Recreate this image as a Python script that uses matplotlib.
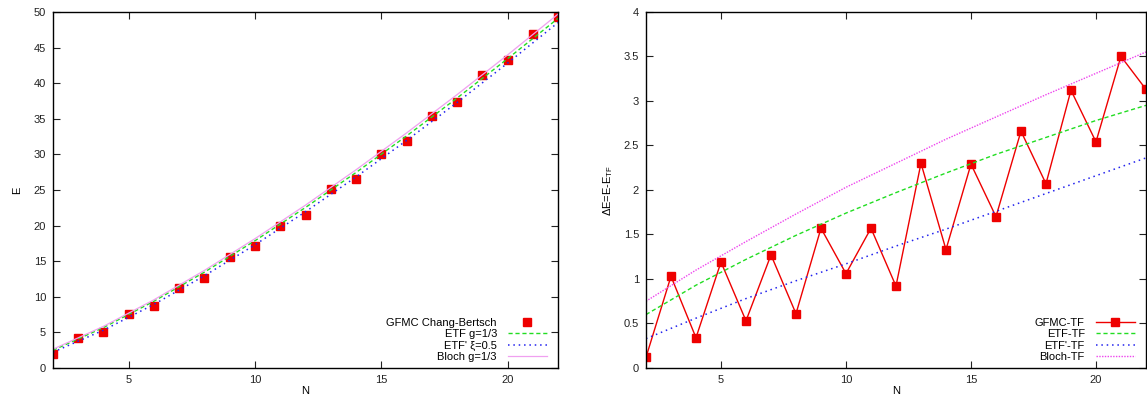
import numpy as np
import matplotlib
matplotlib.use('Agg')
import matplotlib.pyplot as plt
from matplotlib.ticker import FormatStrFormatter

plt.rcParams['font.family'] = ['Liberation Sans', 'DejaVu Sans']
plt.rcParams['font.size'] = 8
plt.rcParams['mathtext.fontset'] = 'custom'
plt.rcParams['mathtext.rm'] = 'Liberation Sans'

# GFMC points
N = np.arange(2, 23)
E_gfmc = [2.0, 4.2, 5.1, 7.6, 8.7, 11.3, 12.6, 15.6, 17.2, 19.9, 21.5,
          25.2, 26.6, 30.0, 31.9, 35.4, 37.4, 41.1, 43.2, 46.9, 49.3]
dE_gfmc = [0.12, 1.03, 0.34, 1.19, 0.53, 1.27, 0.61, 1.57, 1.06, 1.57, 0.92,
           2.30, 1.33, 2.29, 1.70, 2.66, 2.07, 3.12, 2.54, 3.50, 3.13]

# smooth curves, sampled at even N
Nc = [2, 4, 6, 8, 10, 12, 14, 16, 18, 20, 22]
E_etf = [2.49, 5.68, 9.38, 13.47, 17.87, 22.54, 27.45, 32.58, 37.90, 43.42, 49.09]
E_etfp = [2.22, 5.31, 8.94, 12.96, 17.30, 21.94, 26.82, 31.94, 37.27, 42.80, 48.50]
E_bloch = [2.64, 5.85, 9.58, 13.71, 18.16, 22.87, 27.83, 33.00, 38.38, 43.95, 49.69]
dE_etf = [0.60, 0.93, 1.22, 1.49, 1.74, 1.97, 2.19, 2.40, 2.59, 2.78, 2.95]
dE_etfp = [0.33, 0.56, 0.78, 0.98, 1.17, 1.37, 1.56, 1.76, 1.96, 2.16, 2.36]
dE_bloch = [0.75, 1.10, 1.42, 1.73, 2.03, 2.30, 2.57, 2.82, 3.07, 3.31, 3.55]

green = '#22dd22'
blue = '#2222ee'
magenta = '#ee44ee'
red = '#ee0000'

fig = plt.figure(figsize=(11.47, 4.01), dpi=100)
ax1 = fig.add_axes([0.0462, 0.0823, 0.4403, 0.888])
ax2 = fig.add_axes([0.5632, 0.0823, 0.4359, 0.888])

# left panel
ax1.plot(N, E_gfmc, 's', color=red, ms=5.5, label='GFMC Chang-Bertsch')
ax1.plot(Nc, E_etf, '--', color=green, lw=1, dashes=(3, 2), label='ETF g=1/3')
ax1.plot(Nc, E_etfp, ':', color=blue, lw=1.1, dashes=(1, 2.5), label="ETF' \u03be=0.5")
ax1.plot(Nc, E_bloch, '-', color='#f0a0f0', lw=0.9, label='Bloch g=1/3')
ax1.set_xlim(2, 22)
ax1.set_ylim(0, 50)
ax1.set_xticks([5, 10, 15, 20])
ax1.set_yticks(np.arange(0, 51, 5))
ax1.set_xlabel('N')
ax1.set_ylabel('E')

# right panel
ax2.plot(N, dE_gfmc, '-s', color=red, lw=1, ms=5.5, label='GFMC-TF')
ax2.plot(Nc, dE_etf, '--', color=green, lw=1, dashes=(3, 2), label='ETF-TF')
ax2.plot(Nc, dE_etfp, ':', color=blue, lw=1.1, dashes=(1, 2.5), label="ETF'-TF")
ax2.plot(Nc, dE_bloch, ':', color=magenta, lw=1, dashes=(1, 1), label='Bloch-TF')
ax2.set_xlim(2, 22)
ax2.set_ylim(0, 4)
ax2.set_xticks([5, 10, 15, 20])
ax2.set_yticks(np.arange(0, 4.01, 0.5))
ax2.yaxis.set_major_formatter(FormatStrFormatter('%g'))
ax2.set_xlabel('N')
ax2.set_ylabel('\u0394E=E-E$_{\\rm TF}$')

for ax in (ax1, ax2):
    ax.legend(loc='lower right', bbox_to_anchor=(1.0, -0.014), frameon=False,
              markerfirst=False, handlelength=3.5, labelspacing=0.12,
              borderaxespad=0.6, handletextpad=1.0, numpoints=1)
    ax.tick_params(direction='in', top=True, right=True, length=5, width=0.8,
                   labelsize=8, colors='#222222', pad=5)
    for s in ax.spines.values():
        s.set_linewidth(1.0)
    ax.xaxis.labelpad = 1
ax1.yaxis.labelpad = 8
ax2.yaxis.labelpad = 6

fig.savefig('out.png', dpi=100)
